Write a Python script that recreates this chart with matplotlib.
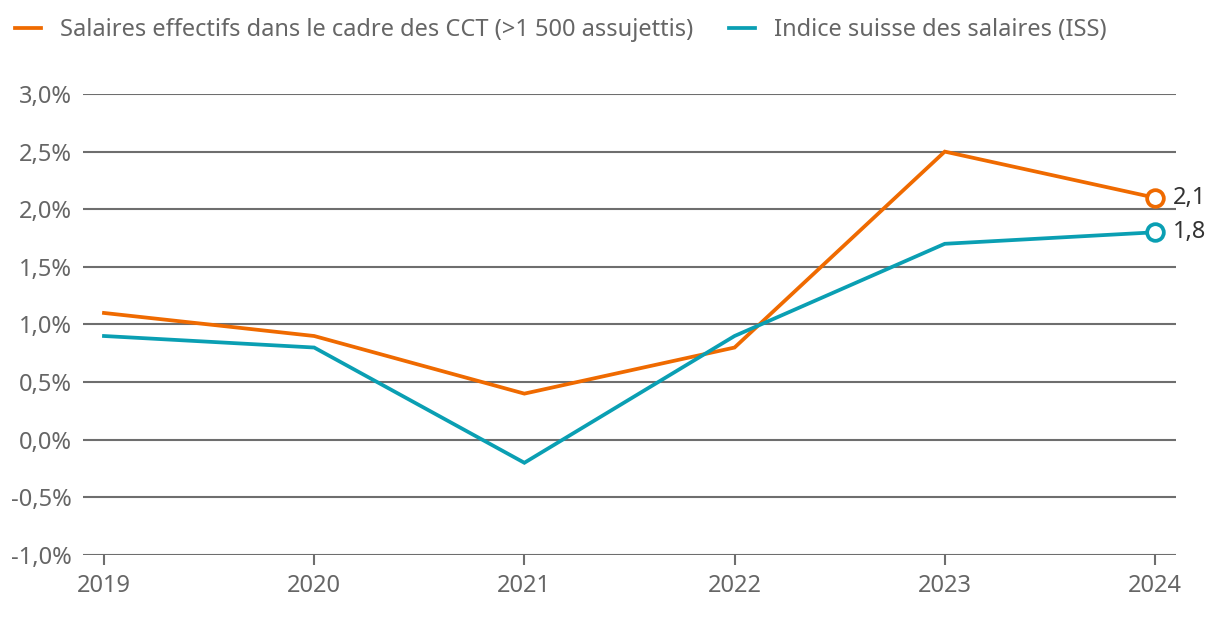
import numpy as np
import matplotlib.pyplot as plt
from matplotlib.ticker import FuncFormatter

plt.rcParams['font.family'] = ['Noto Sans', 'DejaVu Sans']

years = [2019, 2020, 2021, 2022, 2023, 2024]
cct = [1.1, 0.9, 0.4, 0.8, 2.5, 2.1]
iss = [0.9, 0.8, -0.2, 0.9, 1.7, 1.8]
labels = ["Salaires effectifs dans le cadre des CCT (>1 500 assujettis)",
          "Indice suisse des salaires (ISS)"]
end_labels = ["2,1", "1,8"]
yticks = np.arange(-1.0, 3.01, 0.5)

orange = '#ef6a00'
teal = '#0a9fb3'
grey = '#6e6e6e'
txt = '#666666'

fig = plt.figure(figsize=(12.2, 6.24), dpi=100)
ax = fig.add_axes([0.068, 0.1106, 0.8959, 0.7388])

for y in yticks:
    ax.axhline(y, color=grey, lw=1.5, zorder=1)

for vals, col, lab, end in zip([cct, iss], [orange, teal], labels, end_labels):
    ax.plot(years, vals, color=col, lw=2.7, label=lab, zorder=3, solid_joinstyle='miter')
    ax.plot(years[-1], vals[-1], 'o', ms=12, mfc='white', mec=col, mew=2.7, zorder=4)
    ax.annotate(end, (years[-1], vals[-1]), xytext=(13, 0), textcoords='offset points',
                va='center', ha='left', fontsize=17, color='#333333')

ax.set_xlim(2018.9, 2024.1)
ax.set_ylim(-1.0, 3.0)
ax.set_xticks(years)
ax.set_yticks(yticks)
ax.yaxis.set_major_formatter(FuncFormatter(lambda v, p: f"{v:.1f}%".replace('.', ',')))
for s in ax.spines.values():
    s.set_visible(False)
ax.tick_params(axis='y', length=0, pad=8, labelsize=17, labelcolor=txt)
ax.tick_params(axis='x', length=7, width=1.5, color=grey, pad=7, labelsize=17, labelcolor=txt)

leg = fig.legend(loc='upper left', bbox_to_anchor=(-0.005, 1.005), ncol=2, frameon=False,
                 fontsize=17, handlelength=1.1, handletextpad=0.8, columnspacing=1.5)
for t in leg.get_texts():
    t.set_color(txt)

fig.savefig('out.png', dpi=100)
